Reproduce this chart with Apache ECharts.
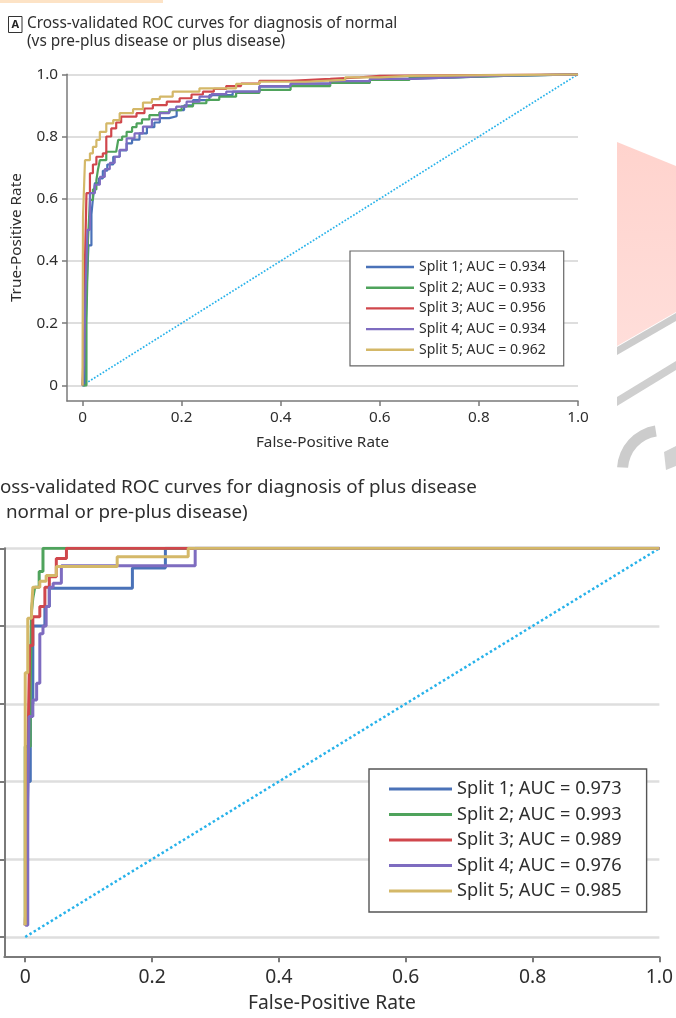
<!DOCTYPE html>
<html><head><meta charset="utf-8">
<script src="https://cdn.jsdelivr.net/npm/echarts@6/dist/echarts.min.js"></script>
<style>html,body{margin:0;padding:0;background:#fff}#c{width:676px;height:1018px}</style>
</head><body><div id="c"></div>
<script>
// ---------- data ----------
const tickValues = [0, 0.2, 0.4, 0.6, 0.8, 1.0];
const tickLabels = ['0', '0.2', '0.4', '0.6', '0.8', '1.0'];
const namesA = ['Split 1; AUC = 0.934', 'Split 2; AUC = 0.933', 'Split 3; AUC = 0.956', 'Split 4; AUC = 0.934', 'Split 5; AUC = 0.962'];
const namesB = ['Split 1; AUC = 0.973', 'Split 2; AUC = 0.993', 'Split 3; AUC = 0.989', 'Split 4; AUC = 0.976', 'Split 5; AUC = 0.985'];
const chance = [[0, 0], [1, 1]];
// panel A, [FPR, TPR] corner points of each stair step
const rocA1 = [[0,0],[0.005,0.08],[0.008,0.3],[0.012,0.45],[0.018,0.55],[0.021,0.6],[0.025,0.65],[0.033,0.665],[0.041,0.69],[0.05,0.71],[0.062,0.735],[0.075,0.755],[0.089,0.778],[0.1,0.79],[0.115,0.81],[0.13,0.83],[0.145,0.845],[0.156,0.859],[0.175,0.865],[0.19,0.885],[0.205,0.9],[0.223,0.917],[0.256,0.933],[0.303,0.944],[0.357,0.96],[0.42,0.97],[0.5,0.978],[0.58,0.985],[0.66,0.99],[0.75,0.995],[0.85,1.0],[1,1]];
const rocA2 = [[0,0],[0.008,0.2],[0.011,0.467],[0.015,0.596],[0.021,0.63],[0.028,0.66],[0.031,0.692],[0.035,0.724],[0.048,0.751],[0.068,0.757],[0.072,0.789],[0.08,0.8],[0.089,0.815],[0.1,0.83],[0.109,0.842],[0.12,0.855],[0.135,0.869],[0.155,0.878],[0.176,0.885],[0.2,0.897],[0.223,0.907],[0.25,0.918],[0.276,0.928],[0.31,0.94],[0.357,0.95],[0.42,0.962],[0.5,0.972],[0.58,0.982],[0.66,0.99],[0.75,0.995],[0.85,1.0],[1,1]];
const rocA3 = [[0,0],[0.004,0.2],[0.005,0.4],[0.008,0.618],[0.015,0.682],[0.021,0.71],[0.028,0.735],[0.041,0.746],[0.048,0.8],[0.058,0.826],[0.068,0.845],[0.078,0.864],[0.109,0.875],[0.125,0.89],[0.142,0.901],[0.17,0.912],[0.196,0.923],[0.22,0.935],[0.243,0.944],[0.265,0.953],[0.29,0.962],[0.32,0.97],[0.357,0.979],[0.42,0.985],[0.5,0.99],[0.56,0.995],[0.6,1.0],[1,1]];
const rocA4 = [[0,0],[0.003,0.07],[0.006,0.3],[0.01,0.5],[0.015,0.618],[0.025,0.645],[0.035,0.67],[0.045,0.695],[0.055,0.715],[0.065,0.735],[0.075,0.757],[0.089,0.794],[0.105,0.81],[0.122,0.832],[0.14,0.855],[0.156,0.875],[0.175,0.887],[0.189,0.896],[0.21,0.912],[0.236,0.928],[0.26,0.936],[0.29,0.944],[0.357,0.962],[0.42,0.97],[0.5,0.978],[0.58,0.985],[0.66,0.99],[0.75,0.995],[0.82,1.0],[1,1]];
const rocA5 = [[0,0],[0.001,0.542],[0.005,0.724],[0.015,0.746],[0.021,0.767],[0.028,0.789],[0.035,0.815],[0.048,0.842],[0.062,0.853],[0.075,0.875],[0.102,0.888],[0.122,0.909],[0.14,0.92],[0.156,0.928],[0.182,0.944],[0.236,0.955],[0.31,0.969],[0.357,0.976],[0.45,0.982],[0.53,0.99],[0.6,0.995],[0.66,1.0],[1,1]];
// panel B
const rocB1 = [[0,0.03],[0.003,0.05],[0.004,0.4],[0.008,0.6],[0.012,0.8],[0.031,0.85],[0.038,0.897],[0.169,0.949],[0.221,1.0],[1,1]];
const rocB2 = [[0,0.03],[0,0.49],[0.008,0.65],[0.01,0.84],[0.012,0.872],[0.015,0.9],[0.022,0.94],[0.028,1.0],[1,1]];
const rocB3 = [[0,0.03],[0.003,0.2],[0.003,0.36],[0.005,0.55],[0.007,0.75],[0.012,0.824],[0.023,0.85],[0.031,0.9],[0.038,0.927],[0.049,0.974],[0.065,1.0],[1,1]];
const rocB4 = [[0,0.03],[0.004,0.35],[0.006,0.567],[0.012,0.61],[0.018,0.653],[0.023,0.78],[0.028,0.8],[0.033,0.85],[0.038,0.9],[0.044,0.91],[0.057,0.955],[0.268,1.0],[1,1]];
const rocB5 = [[0,0.03],[0,0.68],[0.004,0.82],[0.01,0.84],[0.012,0.9],[0.023,0.915],[0.033,0.93],[0.049,0.953],[0.145,0.978],[0.257,1.0],[1,1]];

// ---------- style ----------
const FONT = 'Noto Sans';
const TXT = '#2e2e2e';
const AXC = '#7a7a7a';
const GRIDC = '#dedede';
const colors = ['#4a72b8', '#4fa35c', '#d0474c', '#7e6cc0', '#d4b868'];
const CHANCE = '#27b2ea';

const rocA = [rocA1, rocA2, rocA3, rocA4, rocA5];
const rocB = [rocB1, rocB2, rocB3, rocB4, rocB5];

function xAxisOf(grid, min, fs, axW, tickLen, margin, nameGap) {
  return {
    gridIndex: grid, type: 'value', min: min, max: 1,
    axisLine: { show: true, onZero: false, lineStyle: { color: AXC, width: axW } },
    axisTick: { show: true, customValues: tickValues, length: tickLen, lineStyle: { color: AXC, width: axW } },
    axisLabel: { customValues: tickValues, formatter: v => tickLabels[tickValues.indexOf(+v.toFixed(1))] ?? '', fontSize: fs, color: TXT, fontFamily: FONT, margin: margin },
    splitLine: { show: false },
    name: 'False-Positive Rate', nameLocation: 'middle', nameGap: nameGap,
    nameTextStyle: { fontSize: fs, color: TXT, fontFamily: FONT }
  };
}
function yAxisOf(grid, min, fs, axW, tickLen, margin, showLabel, gridW, nameGap) {
  return {
    gridIndex: grid, type: 'value', min: min, max: 1,
    axisLine: { show: true, onZero: false, lineStyle: { color: AXC, width: axW } },
    axisTick: { show: true, customValues: tickValues, length: tickLen, lineStyle: { color: AXC, width: axW } },
    axisLabel: { show: showLabel, customValues: tickValues, formatter: v => tickLabels[tickValues.indexOf(+v.toFixed(1))] ?? '', fontSize: fs, color: TXT, fontFamily: FONT, margin: margin },
    splitLine: { show: true, lineStyle: { color: GRIDC, width: gridW } },
    name: showLabel ? 'True-Positive Rate' : '', nameLocation: 'middle', nameGap: nameGap,
    nameTextStyle: { fontSize: fs, color: TXT, fontFamily: FONT }
  };
}

const series = [];
series.push({ type: 'line', xAxisIndex: 0, yAxisIndex: 0, data: chance, symbol: 'none', silent: true,
  lineStyle: { color: CHANCE, width: 1.7, type: 'dotted' }, z: 2 });
series.push({ type: 'line', xAxisIndex: 1, yAxisIndex: 1, data: chance, symbol: 'none', silent: true,
  lineStyle: { color: CHANCE, width: 2.5, type: 'dotted' }, z: 2 });
rocA.forEach((d, i) => series.push({ name: namesA[i], type: 'line', step: 'end', xAxisIndex: 0, yAxisIndex: 0,
  data: d, symbol: 'none', lineStyle: { color: colors[i], width: 2.2 }, itemStyle: { color: colors[i] }, z: 3 + i }));
rocB.forEach((d, i) => series.push({ name: namesB[i], type: 'line', step: 'end', xAxisIndex: 1, yAxisIndex: 1,
  data: d, symbol: 'none', lineStyle: { color: colors[i], width: 3 }, itemStyle: { color: colors[i] }, z: 3 + i }));

const option = {
  animation: false,
  backgroundColor: '#ffffff',
  textStyle: { fontFamily: FONT },
  title: [
    { text: 'Cross-validated ROC curves for diagnosis of normal\n(vs pre-plus disease or plus disease)', left: 27, top: 15, padding: 0,
      textStyle: { fontSize: 15.4, lineHeight: 18, fontWeight: 'normal', color: TXT, fontFamily: FONT } },
    { text: 'oss-validated ROC curves for diagnosis of plus disease', left: 0, top: 476, padding: 0,
      textStyle: { fontSize: 18.8, lineHeight: 24, fontWeight: 'normal', color: TXT, fontFamily: FONT } },
    { text: 'normal or pre-plus disease)', left: 6, top: 500.5, padding: 0,
      textStyle: { fontSize: 18.8, lineHeight: 24, fontWeight: 'normal', color: TXT, fontFamily: FONT } }
  ],
  graphic: [
    { type: 'rect', shape: { x: 0, y: 0, width: 163, height: 3 }, style: { fill: '#fde3c6' }, silent: true },
    { type: 'rect', shape: { x: 8.5, y: 16.5, width: 13.5, height: 16 }, style: { fill: '#fff', stroke: '#333', lineWidth: 1 }, silent: true },
    { type: 'text', x: 15.25, y: 24.8, style: { text: 'A', fill: '#222', font: 'bold 11px "Noto Sans"', align: 'center', verticalAlign: 'middle' }, silent: true },
    { type: 'polygon', shape: { points: [[617, 142], [676, 166], [676, 312], [617, 346]] },
      style: { fill: new echarts.graphic.LinearGradient(0, 0, 0, 1, [{ offset: 0, color: '#ffd3cd' }, { offset: 1, color: '#ffdeda' }]) }, silent: true },
    { type: 'polygon', shape: { points: [[617, 347], [676, 313], [676, 321], [617, 355]] }, style: { fill: '#cccccc' }, silent: true },
    { type: 'polygon', shape: { points: [[617, 397], [676, 361], [676, 370], [617, 406]] }, style: { fill: '#cfcfcf' }, silent: true },
    { type: 'sector', shape: { cx: 662, cy: 470, r0: 34, r: 45, startAngle: Math.PI * 1.02, endAngle: Math.PI * 1.45 }, style: { fill: '#cccccc' }, silent: true },
    { type: 'polygon', shape: { points: [[664, 452], [676, 446], [676, 466], [666, 470]] }, style: { fill: '#d2d2d2' }, silent: true }
  ],
  legend: [
    { data: namesA, orient: 'vertical', left: 350, top: 251, padding: [8, 18, 8, 16], itemGap: 4.7,
      icon: 'rect', itemWidth: 48, itemHeight: 2.4, borderColor: '#666', borderWidth: 1.2, backgroundColor: '#fff',
      selectedMode: false, textStyle: { fontSize: 14, lineHeight: 16, color: TXT, fontFamily: FONT } },
    { data: namesB, orient: 'vertical', left: 369, top: 769, padding: [10, 25, 11, 20], itemGap: 5.5,
      icon: 'rect', itemWidth: 63, itemHeight: 3, borderColor: '#555', borderWidth: 1.4, backgroundColor: '#fff',
      selectedMode: false, textStyle: { fontSize: 18.2, lineHeight: 20, color: TXT, fontFamily: FONT } }
  ],
  grid: [
    { left: 67, top: 74.3, width: 511, height: 326.7 },
    { left: 4.3, top: 548.3, width: 660.7, height: 408.4 }
  ],
  xAxis: [
    xAxisOf(0, -0.0313, 15.3, 1.5, 5, 9, 34),
    xAxisOf(1, -0.033, 19.3, 2, 5.5, 11, 37)
  ],
  yAxis: [
    yAxisOf(0, -0.0501, 15.3, 1.5, 5, 9, true, 2, 43),
    yAxisOf(1, -0.0507, 19.3, 2, 5.5, 11, false, 2.5, 50)
  ],
  series: series
};
const chart = echarts.init(document.getElementById('c'), null, { renderer: 'canvas' });
chart.setOption(option);
</script></body></html>
